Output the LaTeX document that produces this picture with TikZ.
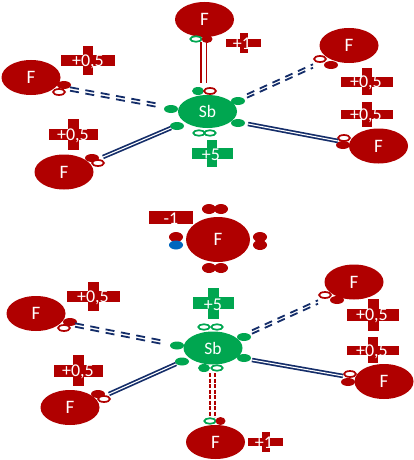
\documentclass[tikz,border=0pt]{standalone}
\usepackage{fontspec}
\setmainfont{Carlito}
\usetikzlibrary{shapes.geometric}
\definecolor{fred}{RGB}{176,0,0}
\definecolor{sbgreen}{RGB}{0,166,80}
\definecolor{bondnavy}{RGB}{20,45,105}
\definecolor{lpblue}{RGB}{0,102,190}
\tikzset{
  atomF/.style={ellipse,draw=none,fill=fred,minimum width=59pt,minimum height=35pt,inner sep=0pt,text=white,font=\fontsize{19}{19}\selectfont},
  atomFbig/.style={atomF,minimum width=64pt,minimum height=45pt},
  atomSb/.style={ellipse,fill=sbgreen,minimum width=59pt,minimum height=33pt,inner sep=0pt,text=white,font=\fontsize{17.5}{17.5}\selectfont},
  lobe/.style={ellipse,inner sep=0pt,minimum width=14pt,minimum height=8pt},
  redfill/.style={lobe,fill=fred},
  redopen/.style={lobe,fill=white,draw=fred,line width=1.7pt,minimum width=12pt,minimum height=6pt},
  grnfill/.style={lobe,fill=sbgreen},
  grnopen/.style={lobe,fill=white,draw=sbgreen,line width=1.7pt,minimum width=11.5pt,minimum height=5.5pt},
  bigred/.style={lobe,fill=fred,minimum height=10pt},
  bigblue/.style={lobe,fill=lpblue,minimum height=9pt},
  chg/.style={text=white,inner sep=0pt,yshift=-1pt,font=\fontsize{18}{18}\selectfont},
  bondsolid/.style={draw=bondnavy,line width=1.7pt,double=white,double distance=1.1pt,line cap=butt},
  bonddash/.style={draw=bondnavy,line width=1.8pt},
  redbond/.style={draw=fred,line width=1.4pt},
}
% \crossmark{colour}{x1}{x2}{y1}{y2}{vx1}{vx2}{vy1}{vy2}
\newcommand{\crossmark}[9]{%
  \fill[#1] (#2,#4) rectangle (#3,#5);
  \fill[#1] (#6,#8) rectangle (#7,#9);
}
\begin{document}
\begin{tikzpicture}[x=1pt,y=-1pt]
\useasboundingbox (0,0) rectangle (414,460);
\fill[white] (0,0) rectangle (414,460);

% ---------- upper molecule ----------
\node[atomF] (tF)  at (204.5,19.5) {F};
\node[atomF] (l1F) at (31,77.5) {F};
\node[atomF] (l2F) at (64,172) {F};
\node[atomF] (r1F) at (349,45.5) {F};
\node[atomF] (r2F) at (378.5,146) {F};
\node[atomSb] (sb) at (207.5,111.5) {Sb};

\node[grnopen] (tFo) at (196,39) {};
\node[redfill,minimum width=11pt] (tFf) at (207,39) {};
\node[redfill] (l1Ff) at (64,85) {};
\node[redopen] (l1Fo) at (59,92) {};
\node[redfill] (l2Ff) at (92,158) {};
\node[redopen] (l2Fo) at (98,163) {};
\node[redfill] (r1Ff) at (331,65) {};
\node[redopen] (r1Fo) at (320,59) {};
\node[redfill] (r2Ff) at (343,145) {};
\node[redopen] (r2Fo) at (344,138) {};

\node[grnfill,minimum width=12pt] (sbT1) at (198,91) {};
\node[redopen] (sbT2) at (210,91) {};
\node[grnfill] (sbR1) at (238,101) {};
\node[grnfill] (sbR2) at (238,123) {};
\node[grnfill] (sbL1) at (171,109) {};
\node[grnfill] (sbL2) at (177,126) {};
\node[grnopen] (sbB1) at (199,133) {};
\node[grnopen] (sbB2) at (210,133) {};

\coordinate (t1a) at (201,42); \coordinate (t1b) at (201,83);
\coordinate (t2a) at (206.5,42); \coordinate (t2b) at (206.5,83);
\draw[redbond] (t1a) -- (t1b);
\draw[redbond] (t2a) -- (t2b);

\coordinate (a1) at (70,89); \coordinate (a2) at (156,105);
\draw[bonddash,dash pattern=on 9pt off 6.6pt] ([yshift=-1.7pt]a1) -- ([yshift=-1.7pt]a2);
\draw[bonddash,dash pattern=on 9pt off 6.6pt] ([yshift=1.7pt]a1) -- ([yshift=1.7pt]a2);
\coordinate (b1) at (103,157); \coordinate (b2) at (171,128);
\draw[bondsolid] (b1) -- (b2);
\coordinate (c1) at (247,96); \coordinate (c2) at (313,66);
\draw[bonddash,dash pattern=on 8pt off 6pt] ([yshift=-1.7pt]c1) -- ([yshift=-1.7pt]c2);
\draw[bonddash,dash pattern=on 8pt off 6pt] ([yshift=1.7pt]c1) -- ([yshift=1.7pt]c2);
\coordinate (d1) at (248,124); \coordinate (d2) at (338,141);
\draw[bondsolid] (d1) -- (d2);

\crossmark{fred}{61}{115}{55}{66}{83}{93}{46}{75}
\node[chg] (q1) at (88,61) {+0,5};
\crossmark{fred}{49}{98}{129}{140}{68}{79}{119}{150}
\node[chg] (q2) at (73,134.5) {+0,5};
\crossmark{fred}{226}{261}{39}{47}{240}{248}{33}{53}
\node[chg] (q3) at (242,43) {+1};
\crossmark{fred}{341}{393}{77}{87}{362}{372}{68}{95}
\node[chg] (q4) at (366,82) {+0,5};
\crossmark{fred}{341}{393}{110}{119}{362}{372}{102}{127}
\node[chg] (q5) at (366,115) {+0,5};
\crossmark{sbgreen}{192}{233}{148}{159}{207}{217}{140}{167}
\node[chg] (q6) at (211,153.5) {+5};

% ---------- lower molecule ----------
\node[atomFbig] (mF) at (218,239.5) {F};
\node[bigred] (m1) at (209,209) {};
\node[bigred] (m2) at (221,209) {};
\node[bigred] (m3) at (209,268) {};
\node[bigred] (m4) at (221,268) {};
\node[bigred] (m5) at (260,237) {};
\node[bigred] (m6) at (260,245) {};
\node[bigred] (m7) at (176,237) {};
\node[bigblue] (m8) at (176,245) {};
\fill[fred] (149,211) rectangle (193,224);
\node[chg] (q7) at (171,218) {-1};

\node[atomF] (bl1F) at (36,313.5) {F};
\node[atomF] (bl2F) at (70,407.5) {F};
\node[atomF] (br1F) at (354,282) {F};
\node[atomF] (br2F) at (384,381.5) {F};
\node[atomF,minimum height=34pt] (bbF) at (215.5,442) {F};
\node[atomSb] (sb2) at (213,348) {Sb};

\node[redfill] (bl1f) at (70,322) {};
\node[redopen] (bl1o) at (64,328) {};
\node[redfill] (bl2f) at (98,394) {};
\node[redopen] (bl2o) at (104,399) {};
\node[redfill] (br1f) at (337,300) {};
\node[redopen] (br1o) at (325,295) {};
\node[redfill] (br2f) at (348,382) {};
\node[redopen] (br2o) at (350,374) {};
\node[grnopen] (bbo) at (210,421) {};
\node[redfill,minimum width=10pt] (bbf) at (220.5,421) {};

\node[grnopen] (s2T1) at (204,327) {};
\node[grnopen] (s2T2) at (217,327) {};
\node[grnfill] (s2R1) at (244,337) {};
\node[grnfill] (s2R2) at (244,358) {};
\node[grnfill] (s2L1) at (177,345.5) {};
\node[grnfill] (s2L2) at (182,361.5) {};
\node[grnfill,minimum width=12pt] (s2B1) at (204,368) {};
\node[grnopen] (s2B2) at (217,368) {};

\coordinate (e1) at (75,325); \coordinate (e2) at (161,342);
\draw[bonddash,dash pattern=on 9pt off 6.6pt] ([yshift=-1.7pt]e1) -- ([yshift=-1.7pt]e2);
\draw[bonddash,dash pattern=on 9pt off 6.6pt] ([yshift=1.7pt]e1) -- ([yshift=1.7pt]e2);
\coordinate (f1) at (109,394); \coordinate (f2) at (176,364);
\draw[bondsolid] (f1) -- (f2);
\coordinate (g1) at (252,332); \coordinate (g2) at (318,302);
\draw[bonddash,dash pattern=on 8pt off 6pt] ([yshift=-1.7pt]g1) -- ([yshift=-1.7pt]g2);
\draw[bonddash,dash pattern=on 8pt off 6pt] ([yshift=1.7pt]g1) -- ([yshift=1.7pt]g2);
\coordinate (h1) at (252,360); \coordinate (h2) at (343,376);
\draw[bondsolid] (h1) -- (h2);
\coordinate (i1a) at (210,373); \coordinate (i1b) at (210,417);
\coordinate (i2a) at (215,373); \coordinate (i2b) at (215,417);
\draw[redbond,dash pattern=on 4pt off 1.5pt] (i1a) -- (i1b);
\draw[redbond,dash pattern=on 4pt off 1.5pt] (i2a) -- (i2b);

\crossmark{fred}{67}{120}{291}{302}{88}{99}{282}{311}
\node[chg] (q8) at (93,297) {+0,5};
\crossmark{fred}{54}{103}{365}{377}{73}{84}{355}{386}
\node[chg] (q9) at (78,371) {+0,5};
\crossmark{fred}{347}{399}{309}{321}{368}{379}{299}{331}
\node[chg] (q10) at (372,315) {+0,5};
\crossmark{fred}{347}{399}{346}{355}{368}{378}{337}{363}
\node[chg] (q11) at (372,351) {+0,5};
\crossmark{sbgreen}{193}{234}{297}{309}{208}{219}{288}{319}
\node[chg] (q12) at (213,304) {+5};
\crossmark{fred}{248}{283}{438}{446}{262}{270}{432}{452}
\node[chg] (q13) at (264,442) {+1};
\end{tikzpicture}
\end{document}
